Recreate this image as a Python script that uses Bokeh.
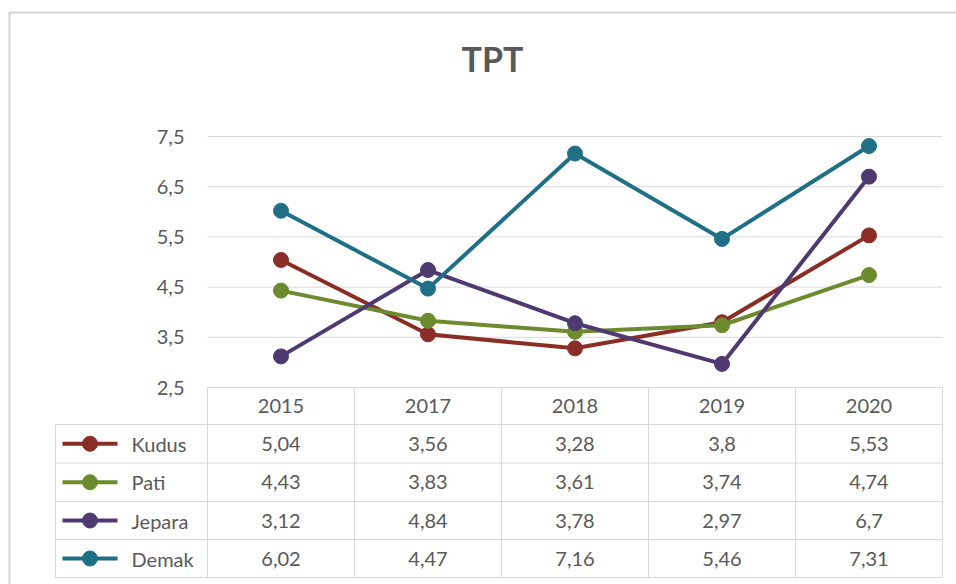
from bokeh.plotting import figure
from bokeh.models import Range1d, ColumnDataSource
from bokeh.core.properties import value
from bokeh.embed import file_html
from bokeh.resources import INLINE

# ---------------- data ----------------
title = "TPT"
years = ["2015", "2017", "2018", "2019", "2020"]
series_names = ["Kudus", "Pati", "Jepara", "Demak"]
kudus = [5.04, 3.56, 3.28, 3.8, 5.53]
pati = [4.43, 3.83, 3.61, 3.74, 4.74]
jepara = [3.12, 4.84, 3.78, 2.97, 6.7]
demak = [6.02, 4.47, 7.16, 5.46, 7.31]
y_ticks = [2.5, 3.5, 4.5, 5.5, 6.5, 7.5]
colors = ["#8A2D27", "#6C8A2E", "#4E3A70", "#1F7086"]
series = [kudus, pati, jepara, demak]

# ---------------- layout (page pixels) ----------------
W, H = 956, 584
MARGIN = 0
CAT_W = 147.0          # px per category
X0_PX = 207.0          # page x of plot area left
Y_PX_PER_UNIT = 50.2   # px per y unit
Y_MIN, Y_MAX = 2.5, 7.5
YMIN_PX = 387.0        # page y of Y_MIN

def fx(px):
    return (px - X0_PX) / CAT_W

def fy(py):
    return Y_MIN - (py - YMIN_PX) / Y_PX_PER_UNIT

FONT = value("Lato")
TXT = "#595959"
LINE = "#d9d9d9"
FS = "20px"

p = figure(width=W, height=H, output_backend="svg", toolbar_location=None,
           x_range=Range1d(fx(MARGIN), fx(MARGIN + W)),
           y_range=Range1d(fy(MARGIN + H), fy(MARGIN)),
           x_axis_location=None, y_axis_location=None,
           min_border=0, outline_line_color=None,
           background_fill_color="white", border_fill_color="white")
p.grid.visible = False

# outer chart border
p.quad(left=[fx(9)], right=[fx(1200)], top=[fy(12)], bottom=[fy(900)],
       fill_color=None, line_color="#d4d4d4", line_width=2)

# title
p.text(x=[fx(492)], y=[fy(58)], text=[title], text_font=FONT,
       text_font_size="34px", text_font_style="bold", text_color=TXT,
       text_align="center", text_baseline="middle")

n = len(years)
# gridlines
p.segment(x0=[0] * len(y_ticks), x1=[n] * len(y_ticks), y0=y_ticks, y1=y_ticks,
          line_color=LINE, line_width=1)
# y tick labels
p.text(x=[fx(184)] * len(y_ticks), y=y_ticks,
       text=[str(t).replace(".", ",") for t in y_ticks], text_font=FONT,
       text_font_size=FS, text_color=TXT, text_align="right",
       text_baseline="middle")

# ---------------- table ----------------
row_lines_px = [424, 462.5, 501, 539, 577]
header_top_px = 387
legend_left_px = 55
# horizontal lines
for ry in row_lines_px:
    p.segment(x0=[fx(legend_left_px)], x1=[n], y0=[fy(ry)], y1=[fy(ry)],
              line_color=LINE, line_width=1)
# vertical lines
for i in range(n + 1):
    p.segment(x0=[i], x1=[i], y0=[fy(header_top_px)], y1=[fy(row_lines_px[-1])],
              line_color=LINE, line_width=1)
p.segment(x0=[fx(legend_left_px)], x1=[fx(legend_left_px)],
          y0=[fy(row_lines_px[0])], y1=[fy(row_lines_px[-1])],
          line_color=LINE, line_width=1)

# header
xc = [i + 0.5 for i in range(n)]
p.text(x=xc, y=[fy((header_top_px + row_lines_px[0]) / 2)] * n, text=years,
       text_font=FONT, text_font_size=FS, text_color=TXT,
       text_align="center", text_baseline="middle")

# ---------------- series lines + table rows ----------------
for k, (name, vals, col) in enumerate(zip(series_names, series, colors)):
    src = ColumnDataSource(dict(x=xc, y=vals))
    p.line("x", "y", source=src, line_color=col, line_width=4)
    p.scatter("x", "y", source=src, size=15, fill_color=col, line_color=col)
    ry = fy((row_lines_px[k] + row_lines_px[k + 1]) / 2)
    p.text(x=xc, y=[ry] * n, text=[str(v).replace(".", ",") for v in vals],
           text_font=FONT, text_font_size=FS, text_color=TXT,
           text_align="center", text_baseline="middle")
    # legend key
    p.segment(x0=[fx(62)], x1=[fx(117)], y0=[ry], y1=[ry], line_color=col,
              line_width=4)
    p.scatter(x=[fx(89.5)], y=[ry], size=15, fill_color=col, line_color=col)
    p.text(x=[fx(131)], y=[ry], text=[name], text_font=FONT,
           text_font_size=FS, text_color=TXT, text_align="left",
           text_baseline="middle")

open("out.html", "w").write(file_html(p, INLINE))
